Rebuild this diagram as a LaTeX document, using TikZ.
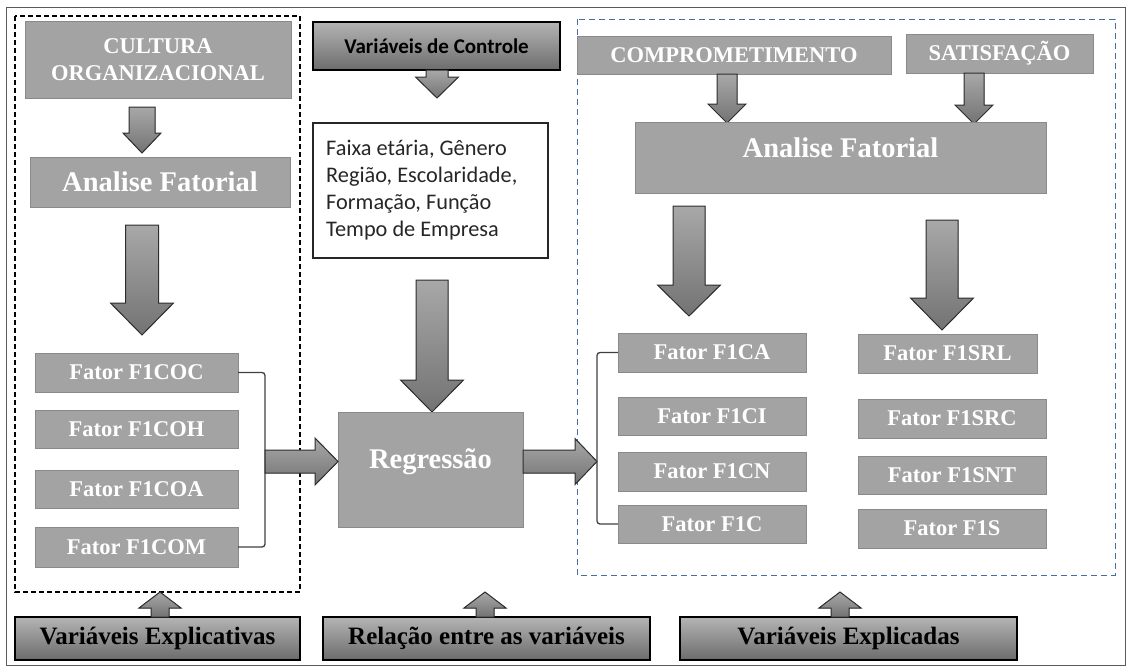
\documentclass[tikz,border=0pt]{standalone}
\usepackage{fontspec}
\setmainfont{Liberation Serif}
\newfontfamily\calib{Carlito}
\usetikzlibrary{calc}

\definecolor{boxgray}{RGB}{163,163,163}
\definecolor{boxedge}{RGB}{138,138,138}
\definecolor{darktop}{RGB}{180,180,180}
\definecolor{darkbot}{RGB}{108,108,108}
\definecolor{arrtop}{RGB}{168,168,168}
\definecolor{arrbot}{RGB}{115,115,115}
\definecolor{arredge}{RGB}{45,45,45}
\definecolor{bluedash}{RGB}{70,110,160}
\definecolor{framecol}{RGB}{90,90,90}

\newcommand\gb[7]{\node[gbox,#6,minimum width={(#4-#2)*1pt},minimum height={(#5-#3)*1pt}] (#1) at ({(#2+#4)/2},{(#3+#5)/2}) {#7};}
\newcommand\db[7]{\node[dbox,#6,minimum width={(#4-#2)*1pt},minimum height={(#5-#3)*1pt}] (#1) at ({(#2+#4)/2},{(#3+#5)/2}) {#7};}
% x, y start, y tip, shaft half width, head half width, head length (negative for upward)
\newcommand\vArrow[6]{\filldraw[blockarrow] ({#1-#4},#2) -- ({#1+#4},#2) -- ({#1+#4},{#3-#6}) -- ({#1+#5},{#3-#6}) -- (#1,#3) -- ({#1-#5},{#3-#6}) -- ({#1-#4},{#3-#6}) -- cycle;}
% x start, x tip, y, shaft half width, head half width, head length
\newcommand\hArrow[6]{\filldraw[blockarrow] (#1,{#3-#4}) -- ({#2-#6},{#3-#4}) -- ({#2-#6},{#3-#5}) -- (#2,#3) -- ({#2-#6},{#3+#5}) -- ({#2-#6},{#3+#4}) -- (#1,{#3+#4}) -- cycle;}

\begin{document}
\begin{tikzpicture}[x=1pt,y=-1pt,
  gbox/.style={draw=boxedge,line width=1pt,fill=boxgray,text=white,inner sep=0pt,outer sep=0pt,
    font=\bfseries\fontsize{22.5}{26}\selectfont,align=center},
  dbox/.style={draw=black,line width=1.5pt,top color=darktop,bottom color=darkbot,text=black,inner sep=0pt,outer sep=0pt,
    font=\bfseries\fontsize{25}{29}\selectfont},
  wlabel/.style={text=white,inner sep=0pt,font=\bfseries\fontsize{28.5}{32}\selectfont},
  blockarrow/.style={draw=arredge,line width=1pt,top color=arrtop,bottom color=arrbot,line join=miter},
  bracket/.style={draw=black!75,line width=1.3pt,rounded corners=3pt},
]
\useasboundingbox (0,0) rectangle (1130,670);
\draw[framecol,line width=0.8pt] (6,7) rectangle (1125,665);

% dashed groups
\draw[black,line width=1.3pt,dash pattern=on 5pt off 3pt] (15,16) rectangle (300,592);
\draw[bluedash,line width=1pt,dash pattern=on 6pt off 4pt] (577,19) rectangle (1115,575);

% left column
\gb{cult}{25}{21}{291}{98}{font=\bfseries\fontsize{22.5}{27}\selectfont}{CULTURA\\ORGANIZACIONAL}
\gb{afl}{30}{157}{290}{207}{font=\bfseries\fontsize{28.5}{32}\selectfont}{Analise Fatorial}
\gb{f1coc}{35}{353}{238}{392}{}{Fator F1COC}
\gb{f1coh}{35}{410}{238}{448}{}{Fator F1COH}
\gb{f1coa}{35}{470}{238}{508}{}{Fator F1COA}
\gb{f1com}{35}{527}{238}{567}{}{Fator F1COM}
\vArrow{142}{107}{153}{13}{19}{20}
\vArrow{142}{225}{335}{16.5}{31.5}{32}
\draw[bracket] (f1coc.east) -- (265,372.5) |- (f1com.east);

% middle column
\db{ctrl}{313}{22}{560}{70}{font=\calib\bfseries\fontsize{21}{24}\selectfont}{Variáveis de Controle}
\vArrow{437}{70}{98}{11}{21.5}{21}
\node[draw=black!85,line width=1.3pt,minimum width=235pt,minimum height=135pt,inner sep=0pt] (vars) at (430.5,190.5) {};
\node[anchor=west,align=left,text=black!85,inner sep=0pt,font=\calib\fontsize{22.3}{27}\selectfont] (varstxt) at (326,190) {Faixa etária, Gênero\\Região, Escolaridade,\\Formação, Função\\Tempo de Empresa};
\vArrow{432}{280}{412}{16}{31.5}{32}
\gb{reg}{338}{412}{523}{527}{}{}
\node[wlabel] (regt) at (430.5,462) {Regressão};
\hArrow{265}{338}{461.5}{11.5}{23.5}{23}
\hArrow{523}{597}{461.5}{11.5}{23}{22}

% right column
\gb{comp}{577}{36}{891}{74}{}{COMPROMETIMENTO}
\gb{sat}{906}{34}{1093}{73}{}{SATISFAÇÃO}
\vArrow{727}{74}{123}{10}{19}{19}
\vArrow{974}{73}{124}{10}{19}{19}
\gb{afr}{635}{122}{1046}{193}{}{}
\node[wlabel] (afrt) at (840.5,148) {Analise Fatorial};
\vArrow{689}{206}{316}{16}{31.5}{31}
\vArrow{942}{220}{330}{16}{31.5}{32}
\gb{f1ca}{618}{333}{806}{372}{}{Fator F1CA}
\gb{f1ci}{618}{397}{806}{435}{}{Fator F1CI}
\gb{f1cn}{618}{452}{806}{491}{}{Fator F1CN}
\gb{f1c}{618}{505}{806}{543}{}{Fator F1C}
\draw[bracket] (f1ca.west) -- (597,352.5) |- (f1c.west);
\gb{f1srl}{858}{334}{1037}{373}{}{Fator F1SRL}
\gb{f1src}{858}{399}{1046}{438}{}{Fator F1SRC}
\gb{f1snt}{858}{456}{1046}{494}{}{Fator F1SNT}
\gb{f1s}{858}{509}{1046}{548}{}{Fator F1S}

% bottom labels
\db{vexp}{15}{617}{300}{660}{}{Variáveis Explicativas}
\db{rel}{323}{617}{650}{660}{}{Relação entre as variáveis}
\db{vexd}{680}{617}{1017}{660}{}{Variáveis Explicadas}
\vArrow{160}{617}{592}{9}{21}{-16}
\vArrow{485}{617}{592}{9}{21}{-16}
\vArrow{840}{617}{592}{9}{21}{-16}
\end{tikzpicture}
\end{document}
